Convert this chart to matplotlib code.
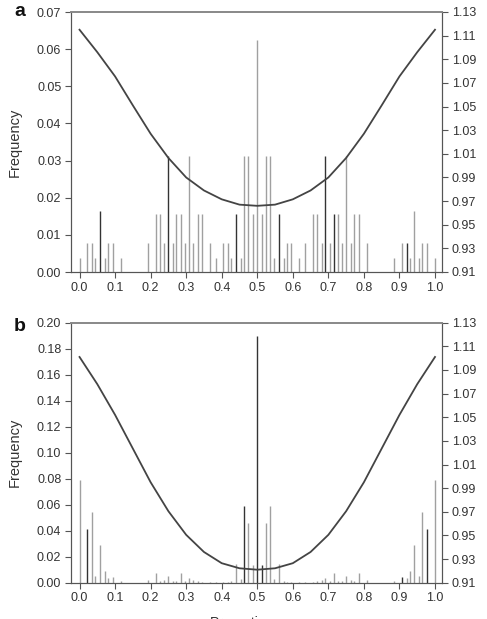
import matplotlib
matplotlib.use("Agg")
import matplotlib.pyplot as plt
from matplotlib.ticker import FormatStrFormatter, MultipleLocator

plt.rcParams['font.family'] = ['Liberation Sans', 'DejaVu Sans']

# ---------------- data ----------------
positions = [0.000, 0.022, 0.036, 0.044, 0.058, 0.071, 0.079, 0.093, 0.116, 0.192,
             0.214, 0.227, 0.237, 0.249, 0.262, 0.272, 0.285, 0.296, 0.309, 0.318,
             0.332, 0.344, 0.367, 0.383, 0.405, 0.417, 0.426, 0.440, 0.454, 0.464,
             0.475, 0.487, 0.500, 0.513, 0.525, 0.536, 0.546, 0.560, 0.574, 0.583,
             0.595, 0.617, 0.633, 0.656, 0.668, 0.682, 0.691, 0.704, 0.715, 0.728,
             0.738, 0.751, 0.763, 0.773, 0.786, 0.808, 0.884, 0.907, 0.921, 0.929,
             0.942, 0.956, 0.964, 0.978, 1.000]

freq_a = [0.0039, 0.0078, 0.0078, 0.0039, 0.0164, 0.0039, 0.0078, 0.0078, 0.0039, 0.0078,
          0.0156, 0.0156, 0.0078, 0.0312, 0.0078, 0.0156, 0.0156, 0.0078, 0.0312, 0.0078,
          0.0156, 0.0156, 0.0078, 0.0039, 0.0078, 0.0078, 0.0039, 0.0156, 0.0039, 0.0312,
          0.0312, 0.0156, 0.0625, 0.0156, 0.0312, 0.0312, 0.0039, 0.0156, 0.0039, 0.0078,
          0.0078, 0.0039, 0.0078, 0.0156, 0.0156, 0.0078, 0.0312, 0.0078, 0.0156, 0.0156,
          0.0078, 0.0312, 0.0078, 0.0156, 0.0156, 0.0078, 0.0039, 0.0078, 0.0078, 0.0039,
          0.0164, 0.0039, 0.0078, 0.0078, 0.0039]

freq_b = [0.0790, 0.0410, 0.0544, 0.0050, 0.0287, 0.0092, 0.0036, 0.0046, 0.0010, 0.0023,
          0.0072, 0.0013, 0.0020, 0.0054, 0.0010, 0.0010, 0.0077, 0.0010, 0.0038, 0.0018,
          0.0010, 0.0006, 0.0005, 0.0005, 0.0006, 0.0008, 0.0010, 0.0146, 0.0030, 0.0587,
          0.0459, 0.0140, 0.1900, 0.0140, 0.0459, 0.0587, 0.0030, 0.0146, 0.0010, 0.0008,
          0.0006, 0.0005, 0.0005, 0.0006, 0.0010, 0.0018, 0.0038, 0.0010, 0.0077, 0.0010,
          0.0010, 0.0054, 0.0020, 0.0013, 0.0072, 0.0023, 0.0010, 0.0046, 0.0036, 0.0092,
          0.0287, 0.0050, 0.0544, 0.0410, 0.0790]

dark_a = [0.058, 0.249, 0.440, 0.560, 0.691, 0.715, 0.921]
dark_b = [0.022, 0.464, 0.500, 0.513, 0.907, 0.978]

curve_x = [0.00, 0.05, 0.10, 0.15, 0.20, 0.25, 0.30, 0.35, 0.40, 0.45, 0.50,
           0.55, 0.60, 0.65, 0.70, 0.75, 0.80, 0.85, 0.90, 0.95, 1.00]
curve_a = [1.115, 1.096, 1.0755, 1.051, 1.027, 1.0065, 0.990, 0.979, 0.9715, 0.967, 0.966,
           0.967, 0.9715, 0.979, 0.990, 1.0065, 1.027, 1.051, 1.0755, 1.096, 1.115]
curve_b = [1.101, 1.078, 1.052, 1.0235, 0.995, 0.9705, 0.9505, 0.936, 0.9265, 0.9222, 0.921,
           0.9222, 0.9265, 0.936, 0.9505, 0.9705, 0.995, 1.0235, 1.052, 1.078, 1.101]

x_ticks = [0.0, 0.1, 0.2, 0.3, 0.4, 0.5, 0.6, 0.7, 0.8, 0.9, 1.0]
right_ticks = [0.91, 0.93, 0.95, 0.97, 0.99, 1.01, 1.03, 1.05, 1.07, 1.09, 1.11, 1.13]

# ---------------- figure ----------------
W, H = 487, 619
fig = plt.figure(figsize=(W / 100, H / 100), dpi=100)

TXT = '#333333'
SP = '#555555'


def panel(rect, freqs, dark, curve, ymax, ystep, label, label_y):
    ax = fig.add_axes(rect)
    cols = ['#333333' if p in dark else '#a0a0a0' for p in positions]
    ax.vlines(positions, 0, freqs, colors=cols, linewidth=1.0)
    ax.set_xlim(-0.024, 1.0197)
    ax.set_ylim(0, ymax)
    ax.set_xticks(x_ticks)
    ax.xaxis.set_major_formatter(FormatStrFormatter('%.1f'))
    ax.yaxis.set_major_locator(MultipleLocator(ystep))
    ax.yaxis.set_major_formatter(FormatStrFormatter('%.2f'))
    ax.set_ylabel('Frequency', fontsize=10.5, color=TXT)
    ax.yaxis.set_label_coords(-0.132, 0.5)
    ax.tick_params(direction='out', length=4, width=0.8, color=SP,
                   labelsize=9, labelcolor=TXT, pad=3)

    tw = ax.twinx()
    tw.plot(curve_x, curve, color='#444444', linewidth=1.3,
            solid_joinstyle='round')
    tw.set_ylim(0.91, 1.13)
    tw.set_yticks(right_ticks)
    tw.yaxis.set_major_formatter(FormatStrFormatter('%.2f'))
    tw.tick_params(direction='out', length=4, width=0.8, color=SP,
                   labelsize=9, labelcolor=TXT, pad=3)
    for a in (ax, tw):
        for s in a.spines.values():
            s.set_color(SP)
            s.set_linewidth(0.8)
        a.spines['top'].set_color('#8a8a8a')
        a.spines['top'].set_linewidth(1.3)
    fig.text(20 / W, 1 - label_y / H, label, fontsize=14, fontweight='bold',
             ha='center', va='center', color='#111111')
    return ax


ax_h = 260 / H
panel([71 / W, 1 - 272 / H, 371 / W, ax_h], freq_a, dark_a, curve_a, 0.07, 0.01, 'a', 12)
panel([71 / W, 1 - 582.7 / H, 371 / W, ax_h], freq_b, dark_b, curve_b, 0.20, 0.02, 'b', 326)

# axis title, cut off at the bottom edge as in the reference
fig.text(210 / W, 1 - 616 / H, 'Proportion', fontsize=10, color=TXT, ha='left', va='top')

fig.savefig('out.png', dpi=100)
